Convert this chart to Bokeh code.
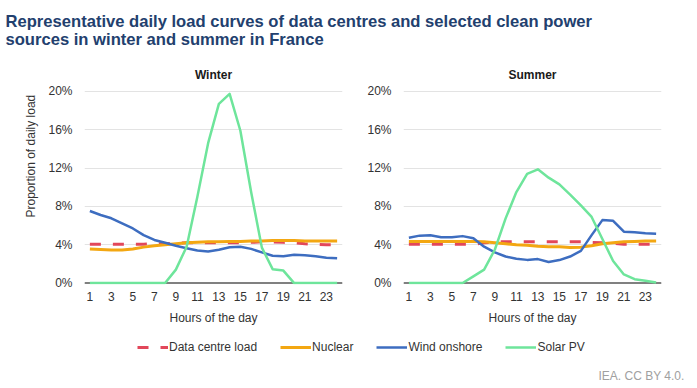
from bokeh.plotting import figure
from bokeh.models import (Range1d, FixedTicker, PrintfTickFormatter, Span, Label,
                          Legend, LegendItem, Title)
from bokeh.layouts import column, row
from bokeh.embed import file_html
from bokeh.resources import INLINE

# ---------------- data (percent of daily load) ----------------
hours = list(range(1, 25))
hour_ticks = [1, 3, 5, 7, 9, 11, 13, 15, 17, 19, 21, 23]
pct_ticks = [0, 4, 8, 12, 16, 20]

winter_dc = [4.05, 4.05, 4.05, 4.05, 4.05, 4.05, 4.1, 4.1, 4.15, 4.2, 4.2, 4.2,
             4.2, 4.2, 4.2, 4.25, 4.3, 4.3, 4.25, 4.2, 4.1, 4.05, 4.0, 4.0]
winter_nuclear = [3.55, 3.5, 3.45, 3.45, 3.55, 3.75, 3.9, 4.0, 4.1, 4.2, 4.25, 4.3,
                  4.3, 4.35, 4.35, 4.4, 4.4, 4.45, 4.45, 4.45, 4.4, 4.4, 4.4, 4.4]
winter_wind = [7.52, 7.1, 6.76, 6.24, 5.7, 5.0, 4.5, 4.2, 3.9, 3.64, 3.4, 3.3,
               3.47, 3.74, 3.8, 3.57, 3.2, 2.85, 2.8, 2.95, 2.9, 2.8, 2.65, 2.6]
winter_solar = [0, 0, 0, 0, 0, 0, 0, 0, 1.4, 3.8, 9.0, 14.6,
                18.7, 19.75, 15.9, 9.5, 3.7, 1.45, 1.3, 0, 0, 0, 0, 0]

summer_dc = [4.05, 4.05, 4.05, 4.05, 4.05, 4.05, 4.05, 4.2, 4.3, 4.3, 4.3, 4.3,
             4.3, 4.3, 4.3, 4.3, 4.3, 4.25, 4.2, 4.15, 4.05, 4.05, 4.05, 4.05]
summer_nuclear = [4.35, 4.35, 4.35, 4.35, 4.35, 4.35, 4.35, 4.3, 4.2, 4.1, 4.0, 3.95,
                  3.85, 3.8, 3.8, 3.7, 3.75, 3.9, 4.1, 4.2, 4.3, 4.35, 4.4, 4.4]
summer_wind = [4.74, 4.95, 5.0, 4.78, 4.78, 4.9, 4.67, 3.8, 3.2, 2.77, 2.53, 2.42,
               2.5, 2.2, 2.4, 2.77, 3.36, 5.0, 6.57, 6.5, 5.36, 5.3, 5.2, 5.15]
summer_solar = [0, 0, 0, 0, 0, 0, 0.7, 1.4, 3.5, 6.75, 9.5, 11.4,
                11.87, 11.0, 10.3, 9.24, 8.1, 6.9, 4.6, 2.3, 0.9, 0.4, 0.25, 0.05]

series_names = ["Data centre load", "Nuclear", "Wind onshore", "Solar PV"]
title_lines = ["Representative daily load curves of data centres and selected clean power",
               "sources in winter and summer in France"]
panel_titles = ["Winter", "Summer"]
y_title = "Proportion of daily load"
x_title = "Hours of the day"
source_text = "IEA. CC BY 4.0."

# ---------------- styles ----------------
FONT = "Liberation Sans"
TEXT = "#333333"
colors = ["#e2475a", "#f3a712", "#3d6dc0", "#6ee59b"]
widths = [3, 3, 2.5, 2.5]
dashes = ["11 12", "solid", "solid", "solid"]


def panel(name, data, width, border_left, border_right, title_dx, with_ylabel):
    p = figure(width=width, height=274,
               min_border_left=border_left, min_border_right=border_right,
               min_border_top=34, min_border_bottom=46,
               x_range=Range1d(0.5, 24.5), y_range=Range1d(-0.15, 20.1),
               output_backend="svg", toolbar_location=None,
               background_fill_color="white", border_fill_color="white")
    p.outline_line_color = None
    p.xgrid.visible = False
    p.ygrid.ticker = FixedTicker(ticks=pct_ticks)
    p.ygrid.grid_line_color = "#e3e3e3"
    p.ygrid.grid_line_width = 1

    p.xaxis.ticker = FixedTicker(ticks=hour_ticks)
    p.yaxis.ticker = FixedTicker(ticks=pct_ticks)
    p.yaxis.formatter = PrintfTickFormatter(format="%d%%")
    for ax in (p.xaxis, p.yaxis):
        ax.axis_line_color = None
        ax.major_tick_line_color = None
        ax.minor_tick_line_color = None
        ax.major_tick_out = 0
        ax.major_tick_in = 0
        ax.major_label_text_font = FONT
        ax.major_label_text_font_size = "12px"
        ax.major_label_text_color = TEXT
    p.yaxis.major_label_standoff = 12
    p.xaxis.major_label_standoff = 7
    p.xaxis.axis_label = x_title
    p.xaxis.axis_label_text_font = FONT
    p.xaxis.axis_label_text_font_size = "12px"
    p.xaxis.axis_label_text_font_style = "normal"
    p.xaxis.axis_label_text_color = TEXT
    p.xaxis.axis_label_standoff = 7

    p.add_layout(Span(location=0, dimension="width", line_color="#808080",
                      line_width=2, level="underlay"))

    for vals, c, w, d in zip(data, colors, widths, dashes):
        p.line(hours, vals, line_color=c, line_width=w, line_dash=d,
               line_join="round")

    p.add_layout(Title(text=name, align="center", offset=title_dx, standoff=17,
                       text_font=FONT, text_font_size="12px", text_font_style="bold",
                       text_color="#1a1a1a"), "above")
    if with_ylabel:
        p.add_layout(Title(text=y_title, align="left", offset=67, standoff=15,
                           text_font=FONT, text_font_size="12px",
                           text_font_style="normal", text_color=TEXT), "left")
    return p


left = panel(panel_titles[0], [winter_dc, winter_nuclear, winter_wind, winter_solar],
             352, 84, 10, 4, True)
right = panel(panel_titles[1], [summer_dc, summer_nuclear, summer_wind, summer_solar],
              337, 51, 28, 1.5, False)


def blank(h, w=689):
    f = figure(width=w, height=h, x_range=Range1d(0, w), y_range=Range1d(0, h),
               min_border=0, output_backend="svg", toolbar_location=None,
               border_fill_color="white", background_fill_color="white")
    f.axis.visible = False
    f.grid.visible = False
    f.outline_line_color = None
    return f


header = blank(56)
header.add_layout(Label(x=5, y=35.3, text=title_lines[0], text_font=FONT,
                        text_font_size="16.6px", text_font_style="bold",
                        text_color="#22406e", text_baseline="alphabetic"))
header.add_layout(Label(x=5, y=17, text=title_lines[1], text_font=FONT,
                        text_font_size="16.6px", text_font_style="bold",
                        text_color="#22406e", text_baseline="alphabetic"))

footer = blank(58)
nan = float("nan")
items = []
for nm, c, w, d in zip(series_names, colors, widths, dashes):
    r = footer.line([nan, nan], [nan, nan], line_color=c, line_width=w, line_dash=d)
    items.append(LegendItem(label=nm, renderers=[r]))
legend = Legend(items=items, orientation="horizontal", location=(137, 31),
                glyph_width=31, glyph_height=20, label_standoff=1, spacing=23,
                padding=0, margin=0, border_line_color=None,
                background_fill_alpha=0, label_text_font=FONT,
                label_text_font_size="12px", label_text_color=TEXT)
footer.add_layout(legend)
footer.add_layout(Label(x=684, y=13, text=source_text, text_font=FONT,
                        text_font_size="12px", text_color="#a0a0a0",
                        text_align="right", text_baseline="middle"))

layout = column(header, row(left, right), footer)
open("out.html", "w").write(file_html(layout, INLINE))
